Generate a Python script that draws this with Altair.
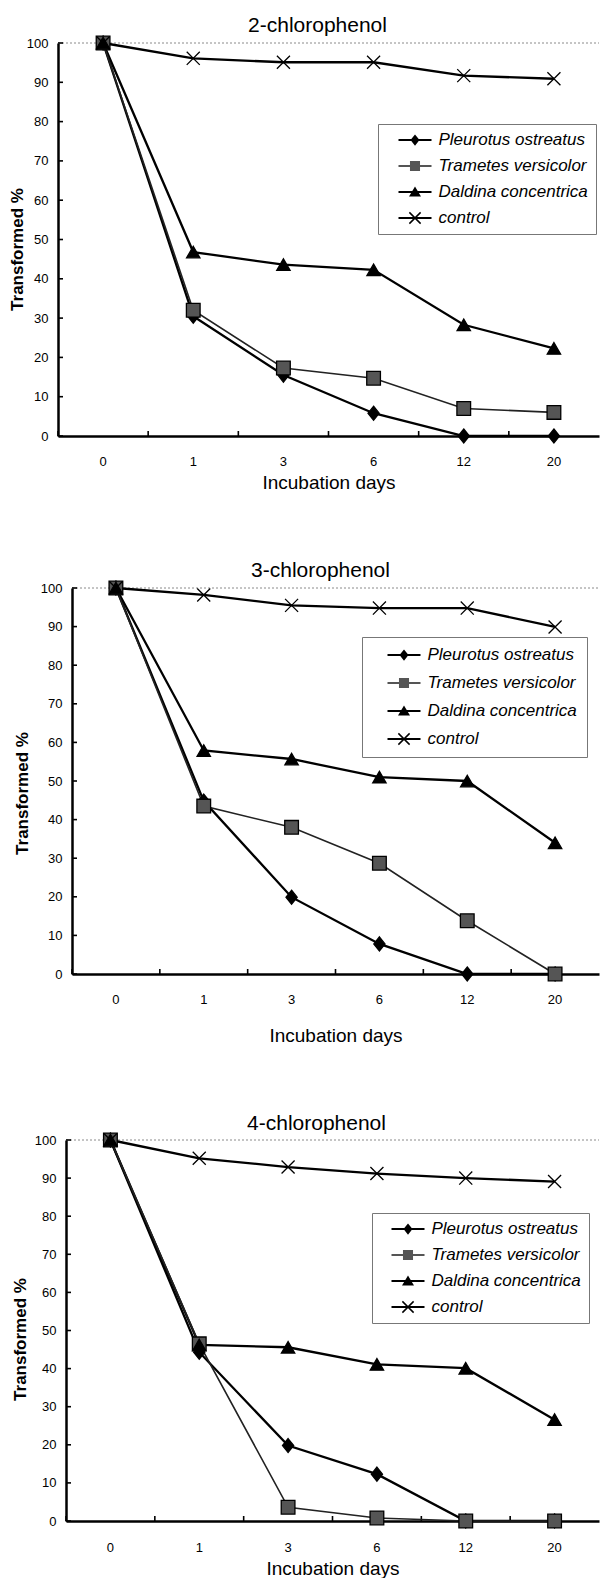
import altair as alt
import pandas as pd

days = ["0", "1", "3", "6", "12", "20"]
series = ["Pleurotus ostreatus", "Trametes versicolor", "Daldina concentrica", "control"]
y_ticks = [0, 10, 20, 30, 40, 50, 60, 70, 80, 90, 100]

# 2-chlorophenol
cp2_pleurotus = [100, 30.5, 15.5, 5.8, 0, 0]
cp2_trametes = [100, 32, 17.3, 14.7, 7, 6]
cp2_daldina = [100, 46.8, 43.6, 42.3, 28.3, 22.3]
cp2_control = [100, 96.1, 95.1, 95.1, 91.7, 90.9]

# 3-chlorophenol
cp3_pleurotus = [100, 44.8, 19.9, 7.8, 0, 0]
cp3_trametes = [100, 43.5, 38, 28.7, 13.8, 0]
cp3_daldina = [100, 57.9, 55.7, 51, 50, 34]
cp3_control = [100, 98.2, 95.5, 94.8, 94.8, 89.9]

# 4-chlorophenol
cp4_pleurotus = [100, 44.3, 19.8, 12.3, 0, 0]
cp4_trametes = [100, 46.5, 3.6, 0.8, 0, 0]
cp4_daldina = [100, 46.2, 45.6, 41.1, 40.1, 26.6]
cp4_control = [100, 95.2, 92.9, 91.2, 90, 89.1]

FONT = "Liberation Sans"
W = 541

marker_paths = [
    "M0,-1L0.8,0L0,1L-0.8,0Z",
    "square",
    "triangle-up",
    "M-1,-1L1,1M-1,1L1,-1",
]
marker_sizes = [196, 170, 150, 160]
marker_fills = ["black", "#555555", "black", "black"]
LINE = "M-2.2,-0.14H2.2V0.14H-2.2Z"
legend_paths = [
    LINE + "M0,-0.75L0.6,0L0,0.75L-0.6,0Z",
    LINE + "M-0.67,-0.67H0.67V0.67H-0.67Z",
    LINE + "M0,-0.75L0.8,0.6H-0.8Z",
    LINE + "M-0.68,-0.82L0.82,0.68L0.68,0.82L-0.82,-0.68Z"
           "M0.68,-0.82L0.82,-0.68L-0.68,0.82L-0.82,0.68Z",
]


def make_panel(title, vals, H, off, ytp, ytitle_y, xlp, xtp, toff, tdx, lx, ly, lpad, lrow, lsym):
    rows = []
    for s, v in zip(series, vals):
        for d, y in zip(days, v):
            rows.append({"day": d, "series": s, "value": y})
    df = pd.DataFrame(rows)
    tick_df = pd.DataFrame({"value": y_ticks})
    day_df = pd.DataFrame({"day": days})
    top_df = pd.DataFrame({"value": [100]})

    xscale = alt.Scale(type="band", domain=days, paddingInner=0, paddingOuter=0, range=[off, W])
    yscale = alt.Scale(domain=[0, 100], nice=False, zero=False)
    xaxis = alt.Axis(
        title="Incubation days", labelAngle=0, ticks=False, domainWidth=2.5,
        domainColor="black", labelFont=FONT, labelFontSize=13, labelColor="black",
        labelPadding=xlp, titlePadding=xtp, titleFont=FONT, titleFontSize=19,
        titleFontWeight="normal", titleColor="black", titleX=(off + W) / 2)
    yaxis = alt.Axis(
        title="Transformed %", values=y_ticks, ticks=False, grid=False, domainWidth=2.5,
        domainColor="black", labelFont=FONT, labelFontSize=13, labelColor="black",
        labelPadding=10, titlePadding=ytp, titleFont=FONT, titleFontSize=17,
        titleFontWeight="bold", titleColor="black", titleY=ytitle_y, offset=-off)
    X = alt.X("day:O", scale=xscale, sort=days, axis=xaxis)
    Y = alt.Y("value:Q", scale=yscale, axis=yaxis)

    top = alt.Chart(top_df).mark_rule(color="#8a8a8a", strokeDash=[2, 2], strokeWidth=1).encode(
        y=Y, x=alt.value(off), x2=alt.value(W)
    )
    yt = alt.Chart(tick_df).mark_rule(color="black", strokeWidth=1.6).encode(
        y=Y, x=alt.value(off), x2=alt.value(off + 5)
    )
    xt = alt.Chart(day_df).mark_rule(color="black", strokeWidth=1.6).encode(
        x=alt.X("day:O", scale=xscale, sort=days, axis=xaxis, bandPosition=0),
        y=alt.value(H), y2=alt.value(H - 5)
    )
    lines_main = alt.Chart(df).transform_filter(
        alt.datum.series != series[1]
    ).mark_line(color="black", strokeWidth=2.3).encode(x=X, y=Y, detail="series:N")
    lines_tv = alt.Chart(df).transform_filter(
        alt.datum.series == series[1]
    ).mark_line(color="#222222", strokeWidth=1.6).encode(x=X, y=Y, detail="series:N")
    pts = alt.Chart(df).mark_point(filled=False, stroke="black", strokeWidth=1.3, opacity=1).encode(
        x=X, y=Y,
        shape=alt.Shape("series:N", scale=alt.Scale(domain=series, range=marker_paths), legend=None),
        fill=alt.Fill("series:N", scale=alt.Scale(domain=series, range=marker_fills), legend=None),
        size=alt.Size("series:N", scale=alt.Scale(domain=series, range=marker_sizes), legend=None),
    )
    leg = alt.Legend(
        title=None, orient="none", legendX=lx, legendY=ly, padding=lpad, rowPadding=lrow,
        symbolOffset=lsym, labelOffset=15, labelFont=FONT, labelFontStyle="italic",
        labelFontSize=17, labelColor="black", strokeColor="#777777", fillColor="white",
        symbolSize=225, symbolStrokeWidth=0, labelLimit=300, symbolOpacity=1,
    )
    legend_layer = alt.Chart(df).transform_filter("false").mark_point(
        filled=True, opacity=1, size=225
    ).encode(
        x=X, y=Y,
        shape=alt.Shape("series:N", scale=alt.Scale(domain=series, range=legend_paths), legend=leg),
        fill=alt.Fill("series:N", scale=alt.Scale(domain=series, range=marker_fills), legend=leg),
    )
    return alt.layer(top, yt, xt, lines_main, lines_tv, pts, legend_layer).resolve_scale(
        shape="independent", fill="independent"
    ).properties(
        width=W, height=H,
        title=alt.TitleParams(text=title, font=FONT, fontSize=21, fontWeight="normal",
                              color="black", offset=toff, anchor="middle", dx=tdx),
    )


p1 = make_panel("2-chlorophenol", [cp2_pleurotus, cp2_trametes, cp2_daldina, cp2_control],
                393, 0, 0, 206, 19, 5, -3, -11, 320, 81, 7.5, 8, 21)
p2 = make_panel("3-chlorophenol", [cp3_pleurotus, cp3_trametes, cp3_daldina, cp3_control],
                386, 14, 8.5, 205, 19, 20, -3, -8, 304, 49, 9.5, 10, 24)
p3 = make_panel("4-chlorophenol", [cp4_pleurotus, cp4_trametes, cp4_daldina, cp4_control],
                381, 8, 5, 199, 20, 5, -4, -12, 314, 73, 7.5, 8, 20)

chart = alt.concat(p1, p2, p3, columns=1, spacing=68, align="none").resolve_scale(
    shape="independent", fill="independent", size="independent"
).properties(
    padding={"left": 0, "top": 7, "right": 0, "bottom": 0}
).configure_view(stroke=None)

chart.save("out.html", embed_options={"renderer": "svg", "actions": False})
